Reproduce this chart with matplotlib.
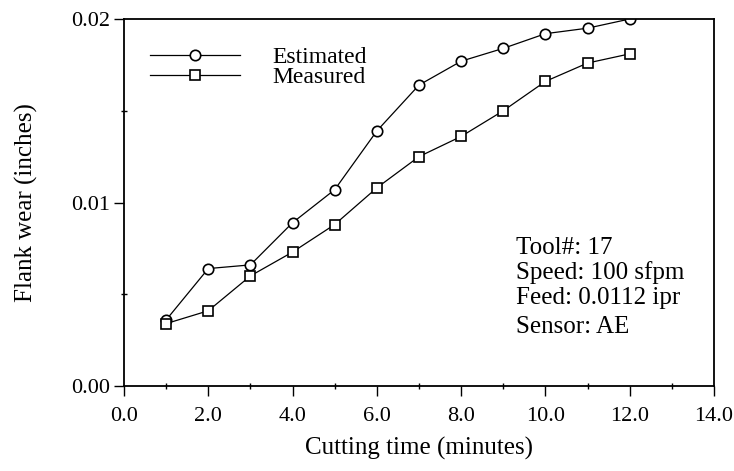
import numpy as np
import matplotlib
matplotlib.use("Agg")
import matplotlib.pyplot as plt
from matplotlib.ticker import MultipleLocator, FormatStrFormatter

# cutting time (minutes)
time_min = [1, 2, 3, 4, 5, 6, 7, 8, 9, 10, 11, 12]
# flank wear (inches)
wear_estimated = [0.0036, 0.0064, 0.0066, 0.0089, 0.0107, 0.0139,
                  0.0164, 0.0177, 0.0184, 0.0192, 0.0195, 0.0200]
wear_measured = [0.0034, 0.0041, 0.0060, 0.0073, 0.0088, 0.0108,
                 0.0125, 0.0136, 0.0150, 0.0166, 0.0176, 0.0181]

info_lines = ["Tool#: 17", "Speed: 100 sfpm", "Feed: 0.0112 ipr"]
sensor_line = "Sensor: AE"

plt.rcParams["font.family"] = "Liberation Serif"
TICK_SIZE = 16
TEXT_SIZE = 18

fig = plt.figure(figsize=(7.34, 4.71), dpi=100)
ax = fig.add_axes([124 / 734, 1 - 386 / 471, 590 / 734, 367 / 471])

ax.plot(time_min, wear_estimated, "-o", color="black", lw=0.9, ms=7.5,
        mfc="white", mec="black", mew=1.2, label="Estimated")
ax.plot(time_min, wear_measured, "-s", color="black", lw=0.9, ms=7.5,
        mfc="white", mec="black", mew=1.2, label="Measured")

ax.set_xlim(0, 14)
ax.set_ylim(0, 0.02)
ax.xaxis.set_major_locator(MultipleLocator(2))
ax.xaxis.set_minor_locator(MultipleLocator(1))
ax.yaxis.set_major_locator(MultipleLocator(0.01))
ax.yaxis.set_minor_locator(MultipleLocator(0.005))
ax.xaxis.set_major_formatter(FormatStrFormatter("%.1f"))
ax.yaxis.set_major_formatter(FormatStrFormatter("%.2f"))
ax.tick_params(which="major", direction="out", length=7, width=1.0,
               labelsize=TICK_SIZE)
ax.tick_params(axis="x", which="major", pad=8)
ax.tick_params(axis="y", which="major", pad=3)
ax.tick_params(which="minor", direction="inout", length=5, width=1.0)
for s in ax.spines.values():
    s.set_linewidth(1.3)

ax.set_xlabel("Cutting time (minutes)", fontsize=TEXT_SIZE, labelpad=8)
ax.set_ylabel("Flank wear (inches)", fontsize=TEXT_SIZE, labelpad=24)

ax.legend(loc="upper left", bbox_to_anchor=(0.044, 0.925), frameon=False,
          fontsize=17, handlelength=3.8, handletextpad=1.4,
          labelspacing=-0.05, borderaxespad=0.0, borderpad=0.0)

for i, line in enumerate(info_lines):
    ax.text(0.664, 0.376 - i * 0.068, line, transform=ax.transAxes,
            fontsize=TEXT_SIZE, ha="left", va="center")
ax.text(0.664, 0.161, sensor_line, transform=ax.transAxes,
        fontsize=TEXT_SIZE, ha="left", va="center")

fig.savefig("out.png", dpi=100)
